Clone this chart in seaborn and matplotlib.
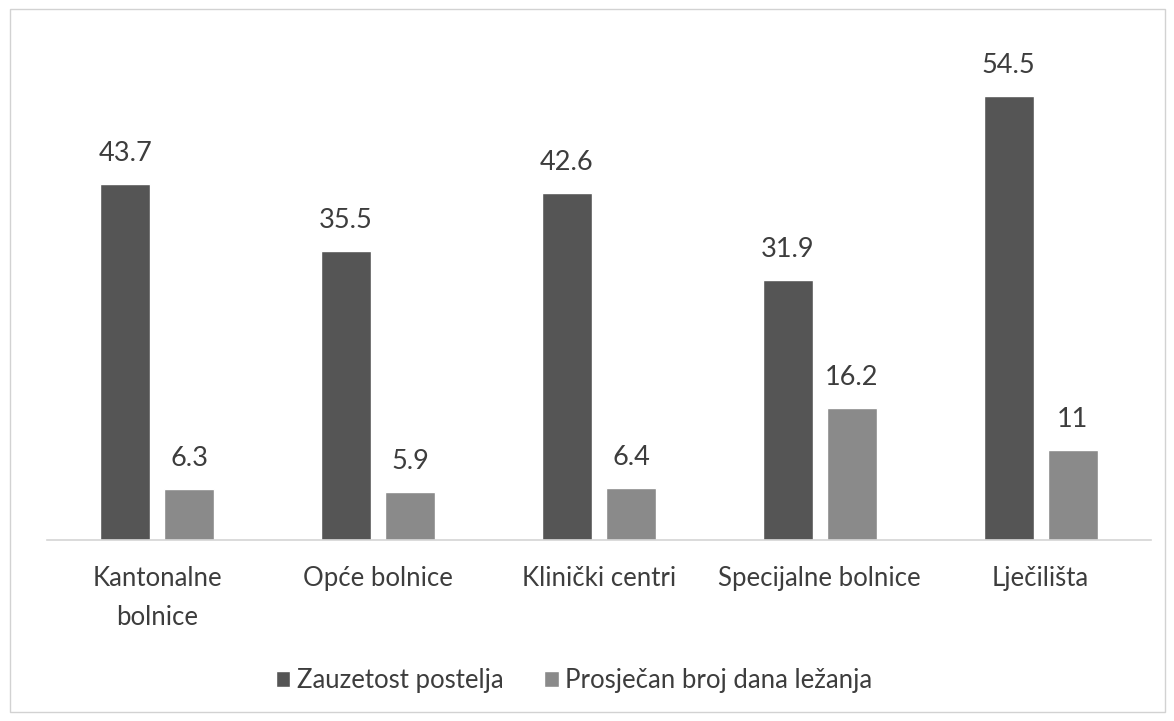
import matplotlib
matplotlib.use("Agg")
import matplotlib.pyplot as plt
import seaborn as sns
import pandas as pd
from matplotlib.patches import Rectangle

categories = ["Kantonalne\nbolnice", "Opće bolnice", "Klinički centri",
              "Specijalne bolnice", "Lječilišta"]
series_names = ["Zauzetost postelja", "Prosječan broj dana ležanja"]
zauzetost = [43.7, 35.5, 42.6, 31.9, 54.5]
prosjecan = [6.3, 5.9, 6.4, 16.2, 11]
value_labels = [["43.7", "35.5", "42.6", "31.9", "54.5"],
                ["6.3", "5.9", "6.4", "16.2", "11"]]

df = pd.DataFrame({
    "kategorija": categories * 2,
    "serija": [series_names[0]] * len(categories) + [series_names[1]] * len(categories),
    "vrijednost": zauzetost + prosjecan,
})

sns.set_theme(style="white")
plt.rcParams["font.family"] = ["Lato", "DejaVu Sans"]
text_color = "#3d3d3d"

fig = plt.figure(figsize=(11.74, 7.21), dpi=100)
ax = fig.add_axes([0.040, 0.251, 0.9404, 0.678])

sns.barplot(data=df, x="kategorija", y="vrijednost", hue="serija",
            order=categories, hue_order=series_names,
            palette=["#555555", "#8a8a8a"], width=0.58, gap=0.22,
            saturation=1, ax=ax)

for cont, labels in zip(ax.containers, value_labels):
    ax.bar_label(cont, labels=labels, padding=13, fontsize=19.5, color=text_color)

ax.set_xlim(-0.5, 4.5)
ax.set_ylim(0, 60)
ax.set_xlabel("")
ax.set_ylabel("")
ax.set_yticks([])
for s in ["top", "right", "left"]:
    ax.spines[s].set_visible(False)
ax.spines["bottom"].set_color("#d4d4d4")
ax.spines["bottom"].set_linewidth(1.2)
ax.tick_params(axis="x", length=0, pad=19, labelsize=18.5, labelcolor=text_color)
for t in ax.get_xticklabels():
    t.set_linespacing(1.7)
    t.set_verticalalignment("top")

handles, labels = ax.get_legend_handles_labels()
ax.legend_.remove()
fig.legend(handles, labels, loc="center", bbox_to_anchor=(0.489, 0.056),
           ncol=2, frameon=False, fontsize=18.5, labelcolor=text_color,
           handlelength=0.55, handleheight=0.55, handletextpad=0.25,
           columnspacing=1.6)

fig.add_artist(Rectangle((10 / 1174, 9 / 721), 1155 / 1174, 703 / 721,
                         transform=fig.transFigure, fill=False,
                         edgecolor="#d2d2d2", linewidth=1.0))

fig.savefig("out.png", dpi=100, facecolor="white")
